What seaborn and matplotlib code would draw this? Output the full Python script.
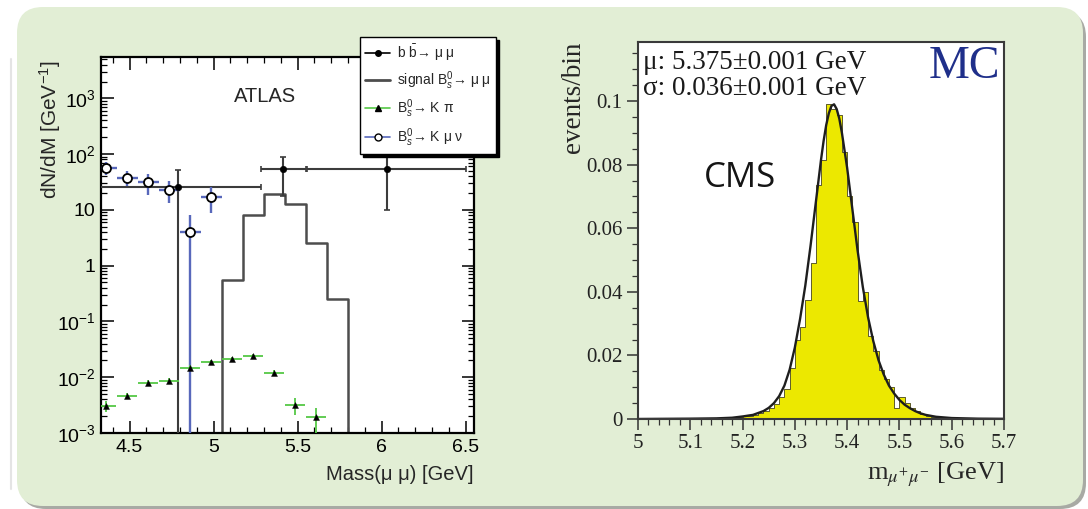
import numpy as np
import matplotlib
matplotlib.use("Agg")
import matplotlib.pyplot as plt
import seaborn as sns
from matplotlib.patches import FancyBboxPatch
from matplotlib.lines import Line2D
from matplotlib.transforms import IdentityTransform
from matplotlib.ticker import (FixedLocator, MultipleLocator, LogLocator,
                               FuncFormatter, NullFormatter, FixedFormatter)

# ---------------- ATLAS: dN/dM versus dimuon mass ----------------
bb_mass = [4.79, 5.415, 6.03]
bb_halfwidth = [0.49, 0.135, 0.475]
bb_value = [25.7, 53.5, 55.0]
bb_err = [25.7, 36.0, 45.0]

sig_edges = [5.05, 5.175, 5.30, 5.425, 5.55, 5.675, 5.80]
sig_value = [0.55, 8.0, 19.5, 12.5, 2.6, 0.25]

kpi_mass = [4.36, 4.485, 4.61, 4.735, 4.86, 4.985, 5.11, 5.235, 5.36, 5.485, 5.61]
kpi_value = [0.0031, 0.0047, 0.0080, 0.0087, 0.0148, 0.0187, 0.0210, 0.0240,
             0.0120, 0.0032, 0.0019]
kpi_err = [0.0007, 0.0006, 0.0009, 0.0010, 0.0015, 0.0015, 0.0017, 0.0019,
           0.0015, 0.0011, 0.0009]

kmunu_mass = [4.36, 4.485, 4.61, 4.735, 4.86, 4.985]
kmunu_value = [57.0, 38.0, 31.6, 23.0, 4.0, 17.0]
kmunu_err = [15.0, 11.0, 13.0, 9.5, 4.0, 8.3]

atlas_xticks = [4.5, 5.0, 5.5, 6.0, 6.5]
atlas_xlabels = ["4.5", "5", "5.5", "6", "6.5"]

# ---------------- CMS: simulated B_s -> mu mu mass peak ----------------
cms_lo, cms_hi, cms_bin = 5.0, 5.7, 0.01
cms_counts = [
    0, 0, 0, 0, 0, 0, 0, 0.0001, 0, 0.0001,
    0.0001, 0.0001, 0.0001, 0.0002, 0.0002, 0.0002, 0.0003, 0.0003, 0.0004, 0.0006,
    0.0008, 0.0010, 0.0013, 0.0018, 0.0025, 0.0035, 0.0048, 0.0070, 0.0095, 0.0160,
    0.0250, 0.0290, 0.0375, 0.0490, 0.0735, 0.0815, 0.0990, 0.0975, 0.0955, 0.0840,
    0.0700, 0.0620, 0.0370, 0.0400, 0.0260, 0.0215, 0.0155, 0.0125, 0.0100, 0.0035,
    0.0070, 0.0050, 0.0036, 0.0026, 0.0017, 0.0010, 0.0007, 0.0005, 0.0003, 0.0002,
    0.0002, 0.0001, 0.0001, 0.0001, 0.0001, 0, 0.0001, 0, 0, 0,
]
fit_mass = [5.00, 5.10, 5.15, 5.18, 5.20, 5.22, 5.24, 5.25, 5.26, 5.27, 5.28, 5.29,
            5.30, 5.31, 5.32, 5.33, 5.34, 5.35, 5.355, 5.36, 5.365, 5.37, 5.375,
            5.38, 5.385, 5.39, 5.40, 5.41, 5.42, 5.43, 5.44, 5.45, 5.46, 5.47,
            5.48, 5.49, 5.50, 5.51, 5.52, 5.53, 5.54, 5.55, 5.57, 5.60, 5.65, 5.70]
fit_value = [0.0, 0.0001, 0.0002, 0.0004, 0.0008, 0.0013, 0.0025, 0.0035, 0.0050,
             0.0072, 0.0105, 0.0155, 0.0225, 0.0315, 0.0420, 0.0545, 0.0680,
             0.0815, 0.0875, 0.0925, 0.0962, 0.0985, 0.0990, 0.0975, 0.0945,
             0.0900, 0.0790, 0.0660, 0.0530, 0.0415, 0.0320, 0.0245, 0.0185,
             0.0140, 0.0105, 0.0080, 0.0060, 0.0045, 0.0034, 0.0025, 0.0018,
             0.0013, 0.0007, 0.0003, 0.0001, 0.00005]
cms_yticks = [0, 0.02, 0.04, 0.06, 0.08, 0.1]
cms_ylabels = ["0", "0.02", "0.04", "0.06", "0.08", "0.1"]
cms_xticks = [5.0, 5.1, 5.2, 5.3, 5.4, 5.5, 5.6, 5.7]
cms_xlabels = ["5", "5.1", "5.2", "5.3", "5.4", "5.5", "5.6", "5.7"]

# ---------------- figure & styling ----------------
sns.set_theme(style="white")
plt.rcParams.update({
    "font.family": ["Liberation Sans", "DejaVu Sans"],
    "mathtext.fontset": "custom",
    "mathtext.rm": "Liberation Sans",
    "mathtext.it": "Liberation Sans:italic",
    "mathtext.bf": "Liberation Sans:bold",
    "axes.facecolor": "white",
})
SANS = ["Liberation Sans", "DejaVu Sans"]
SERIF = ["Liberation Serif", "DejaVu Serif"]

W, H = 1088, 509
fig = plt.figure(figsize=(W / 100, H / 100), dpi=100)
fig.patch.set_facecolor("white")

# rounded light-green backdrop with a soft shadow
px = IdentityTransform()
fig.add_artist(FancyBboxPatch((20, 0), 1066, 498, boxstyle="round,pad=0,rounding_size=26",
                              transform=px, facecolor="#a8aaa4", edgecolor="none", zorder=-3))
fig.add_artist(FancyBboxPatch((17, 3), 1066, 499, boxstyle="round,pad=0,rounding_size=26",
                              transform=px, facecolor="#e2eed5", edgecolor="none", zorder=-2))
fig.add_artist(Line2D([11, 11], [20, 450], transform=px, color="#e4e4e4", lw=1.5, zorder=-2))

ax1 = fig.add_axes([101 / W, 1 - 433 / H, 373 / W, 376 / H])
ax2 = fig.add_axes([638 / W, 1 - 419 / H, 366 / W, 377 / H])

# ---------------- left panel ----------------
ax1.set_yscale("log")

sig_edges_full = [sig_edges[0] - 0.125] + sig_edges + [sig_edges[-1] + 0.125]
sig_value_full = [0.0] + sig_value + [0.0]
sig_centers = [(a + b) / 2 for a, b in zip(sig_edges_full[:-1], sig_edges_full[1:])]
sns.histplot(x=sig_centers, weights=sig_value_full, bins=sig_edges_full,
             element="step", fill=False, color="#4d4d4d", linewidth=1.8, ax=ax1)

ax1.errorbar(bb_mass, bb_value, xerr=bb_halfwidth, yerr=bb_err, fmt="none",
             ecolor="#3c3c3c", elinewidth=1.5, capsize=2.2, capthick=1.2, zorder=3)
sns.scatterplot(x=bb_mass, y=bb_value, marker="o", s=22, color="black",
                edgecolor="black", ax=ax1, zorder=4)

ax1.errorbar(kmunu_mass, kmunu_value, xerr=0.0625, yerr=kmunu_err, fmt="none",
             ecolor="#5868bb", elinewidth=1.7, zorder=3)
sns.scatterplot(x=kmunu_mass, y=kmunu_value, marker="o", s=42, color="white",
                edgecolor="black", linewidth=1.3, ax=ax1, zorder=4)

ax1.errorbar(kpi_mass, kpi_value, xerr=0.06, yerr=kpi_err, fmt="none",
             ecolor="#55c845", elinewidth=1.3, zorder=3)
sns.scatterplot(x=kpi_mass, y=kpi_value, marker="^", s=18, color="black",
                edgecolor="black", ax=ax1, zorder=4)

ax1.set_xlim(4.33, 6.55)
ax1.set_ylim(1e-3, 5500)
ax1.xaxis.set_major_locator(FixedLocator(atlas_xticks))
ax1.xaxis.set_major_formatter(FixedFormatter(atlas_xlabels))
ax1.xaxis.set_minor_locator(MultipleLocator(0.1))
ax1.yaxis.set_major_locator(LogLocator(base=10, numticks=20))
ax1.yaxis.set_minor_locator(LogLocator(base=10, subs=np.arange(2, 10), numticks=20))
ax1.yaxis.set_minor_formatter(NullFormatter())


def log_label(v, pos):
    e = int(round(np.log10(v)))
    if e == 0:
        return "1"
    if e == 1:
        return "10"
    return r"$10^{%d}$" % e


ax1.yaxis.set_major_formatter(FuncFormatter(log_label))
ax1.tick_params(which="both", direction="in", bottom=True, left=True, top=True,
                right=True, colors="black", labelsize=14)
ax1.tick_params(which="major", length=9, width=1.1, pad=4)
ax1.tick_params(which="minor", length=4.5, width=0.9)
for lab in ax1.get_xticklabels() + ax1.get_yticklabels():
    lab.set_fontfamily(SANS)
for s in ax1.spines.values():
    s.set_color("black")
    s.set_linewidth(1.6)

ax1.set_xlabel("Mass(μ μ) [GeV]", loc="right", fontsize=14.5, family=SANS, labelpad=7)
ax1.set_ylabel(r"dN/dM [GeV$^{-1}$]", loc="top", fontsize=15, family=SANS)
ax1.yaxis.set_label_coords(-0.102, 0.99)
ax1.text(0.44, 0.894, "ATLAS", transform=ax1.transAxes, ha="center", va="center",
         fontsize=14.5, family=SANS)

handles = [
    Line2D([], [], color="black", marker="o", markersize=4, lw=1.2),
    Line2D([], [], color="#4d4d4d", lw=2.0),
    Line2D([], [], color="#55c845", marker="^", markersize=4, mfc="black", mec="black", lw=1.2),
    Line2D([], [], color="#5868bb", marker="o", markersize=5, mfc="white", mec="black", lw=1.2),
]
labels = [
    r"b $\bar{\mathrm{b}}$→ μ μ",
    r"signal B$^{0}_{s}$→ μ μ",
    r"B$^{0}_{s}$→ K π",
    r"B$^{0}_{s}$→ K μ ν",
]
fig.legend(handles, labels, loc="upper right", bbox_to_anchor=(496 / W, 1 - 37 / H),
           bbox_transform=fig.transFigure, frameon=True, fancybox=False,
           edgecolor="black", facecolor="white", framealpha=1,
           shadow={"color": "black", "alpha": 1}, handlelength=1.8,
           handletextpad=0.45, labelspacing=0.42, borderpad=0.4, borderaxespad=0,
           prop={"family": SANS, "size": 10})

# ---------------- right panel ----------------
cms_edges = [round(cms_lo + i * cms_bin, 3) for i in range(len(cms_counts) + 1)]
cms_centers = [round(e + cms_bin / 2, 4) for e in cms_edges[:-1]]
sns.histplot(x=cms_centers, weights=cms_counts, bins=cms_edges, element="step",
             fill=True, color="#ece800", alpha=1, edgecolor="#5e5c2a",
             linewidth=0.7, ax=ax2)
sns.lineplot(x=fit_mass, y=fit_value, color="#1e1e1e", linewidth=1.7, ax=ax2)

ax2.set_xlim(cms_lo, cms_hi)
ax2.set_ylim(0, 0.1186)
ax2.xaxis.set_major_locator(FixedLocator(cms_xticks))
ax2.xaxis.set_major_formatter(FixedFormatter(cms_xlabels))
ax2.xaxis.set_minor_locator(MultipleLocator(0.02))
ax2.yaxis.set_major_locator(FixedLocator(cms_yticks))
ax2.yaxis.set_major_formatter(FixedFormatter(cms_ylabels))
ax2.yaxis.set_minor_locator(MultipleLocator(0.005))
ax2.tick_params(which="both", direction="out", bottom=True, left=True, top=False,
                right=False, colors="#333333", labelcolor="#222222", labelsize=15)
ax2.tick_params(which="major", length=8, width=1.1, pad=3)
ax2.tick_params(which="minor", length=4, width=0.9)
for lab in ax2.get_xticklabels() + ax2.get_yticklabels():
    lab.set_fontfamily(SERIF)
for s in ax2.spines.values():
    s.set_color("#3a3a3a")
    s.set_linewidth(1.5)

ax2.set_xlabel(r"m$_{\mu^{+}\mu^{-}}$ [GeV]", loc="right", fontsize=19, family=SERIF,
               math_fontfamily="stix", labelpad=5)
ax2.set_ylabel("events/bin", loc="top", fontsize=19.5, family=SERIF, labelpad=0)

ax2.text(0.014, 0.945, "μ: 5.375±0.001 GeV", transform=ax2.transAxes, ha="left",
         va="center", fontsize=19.5, family=SERIF, color="#1a1a1a")
ax2.text(0.014, 0.876, "σ: 0.036±0.001 GeV", transform=ax2.transAxes, ha="left",
         va="center", fontsize=19.5, family=SERIF, color="#1a1a1a")
ax2.text(0.99, 0.935, "MC", transform=ax2.transAxes, ha="right", va="center",
         fontsize=33, family=SERIF, color="#1f2f8a")
ax2.text(0.279, 0.639, "CMS", transform=ax2.transAxes, ha="center", va="center",
         fontsize=25, family=["Open Sans", "DejaVu Sans"], color="#151515")

fig.savefig("out.png", dpi=100)
